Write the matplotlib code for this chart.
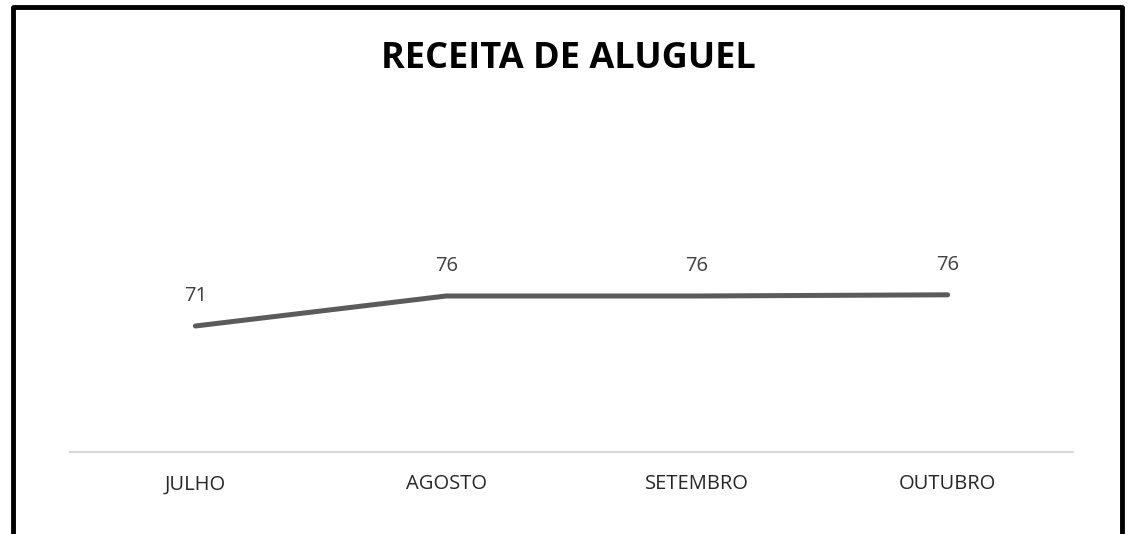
import matplotlib
matplotlib.use("Agg")
import matplotlib.pyplot as plt
from matplotlib.lines import Line2D
from matplotlib.transforms import blended_transform_factory

# ---- data ----
title = "RECEITA DE ALUGUEL"
categories = ["JULHO", "AGOSTO", "SETEMBRO", "OUTUBRO"]
values = [71, 76, 76, 76.2]

W, H = 1130, 534
fig = plt.figure(figsize=(W / 100, H / 100), dpi=100)
fig.patch.set_facecolor("white")

def fx(px):
    return px / W

def fy(py):
    return 1 - py / H

ax_left, ax_right, ax_bottom, ax_top = 70, 1073, 452, 110
ax = fig.add_axes([fx(ax_left), fy(ax_bottom), fx(ax_right - ax_left), (ax_bottom - ax_top) / H])
ax.set_facecolor("none")

x = list(range(len(categories)))
ax.plot(x, values, color="#5b5b5b", lw=3.6, solid_capstyle="round", solid_joinstyle="round", zorder=3)

for xi, v in zip(x, values):
    ax.annotate(f"{v:.0f}", (xi, v), xytext=(0, 18), textcoords="offset points",
                ha="center", va="baseline", fontsize=14.5, color="#404040",
                family="Open Sans")

ax.set_xlim(-0.5, len(categories) - 0.5)
ax.set_ylim(50, 107)
ax.set_yticks([])
ax.set_xticks(x)
ax.set_xticklabels(categories, fontsize=14.5, color="#262626", family="Open Sans")
ax.tick_params(axis="x", length=0, pad=16)
for s in ["top", "right", "left"]:
    ax.spines[s].set_visible(False)
ax.spines["bottom"].set_color("#d9d9d9")
ax.spines["bottom"].set_linewidth(1.5)

# title
fig.text(fx(568), fy(68), title, ha="center", va="baseline", fontsize=26,
         fontweight="bold", family="Open Sans", color="black")

# chart border (bottom edge lies outside the picture)
border = Line2D([fx(12.5), fx(12.5), fx(1122), fx(1122)],
                [fy(H + 10), fy(7), fy(7), fy(H + 10)],
                transform=fig.transFigure, color="black", lw=3.5,
                solid_joinstyle="round", clip_on=False)
fig.add_artist(border)

fig.savefig("out.png", dpi=100)
